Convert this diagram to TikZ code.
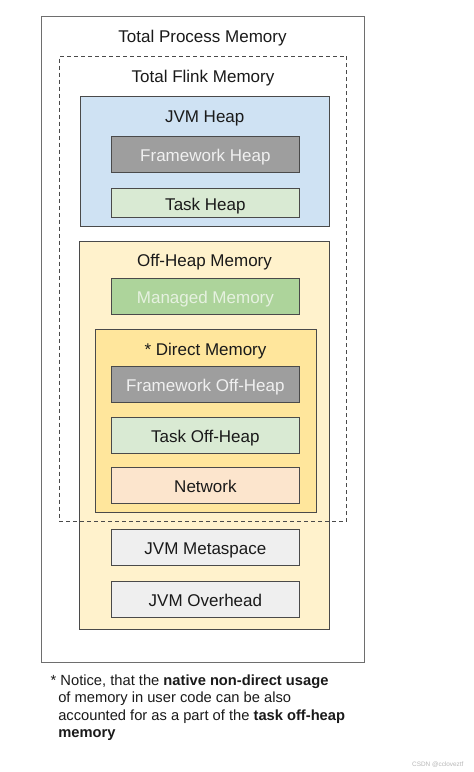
\documentclass[tikz,border=0pt]{standalone}
\usepackage{fontspec}
\setmainfont{Liberation Sans}
\definecolor{boxline}{HTML}{4A4A4A}
\definecolor{outerline}{HTML}{6E6E6E}
\definecolor{txt}{HTML}{1A1A1A}
\definecolor{heapblue}{HTML}{CFE2F3}
\definecolor{fwgray}{HTML}{9E9E9E}
\definecolor{fwtext}{HTML}{F0F0F0}
\definecolor{taskgreen}{HTML}{D9EAD3}
\definecolor{offheap}{HTML}{FFF2CC}
\definecolor{managed}{HTML}{ADD49B}
\definecolor{managedtext}{HTML}{E6F1E0}
\definecolor{direct}{HTML}{FFE69C}
\definecolor{network}{HTML}{FCE5CD}
\definecolor{jvmgray}{HTML}{EFEFEF}
\definecolor{wmark}{HTML}{B8B8B8}
\begin{document}
\begin{tikzpicture}[x=1pt,y=-1pt,
  every node/.style={inner sep=0pt, outer sep=0pt},
  container/.style={draw=boxline, line width=1pt, rectangle},
  item/.style={draw=boxline, line width=1pt, rectangle, minimum width=187.8pt,
    minimum height=36pt, text height=14pt, text depth=0pt,
    font=\fontsize{17}{20}\selectfont, text=txt},
  title/.style={anchor=base, font=\fontsize{17}{20}\selectfont, text=txt}]
\useasboundingbox[fill=white] (0,0) rectangle (474,772);

% outer box
\node[draw=outerline, line width=1pt, minimum width=322.5pt, minimum height=646pt] (outer) at (202.75,339.7) {};
\node[title] (tpm) at (202.5,42.7) {Total Process Memory};
\node[title] (tfm) at (203,82.5) {Total Flink Memory};

% JVM heap
\node[container, fill=heapblue, minimum width=249.3pt, minimum height=130pt] (jvm) at (204.65,161.7) {};
\node[title] (jvmt) at (204.7,122.7) {JVM Heap};
\node[item, fill=fwgray, text=fwtext] (fh) at (205.4,154) {Framework Heap};
\node[item, fill=taskgreen, minimum height=29pt] (th) at (205.4,203.2) {Task Heap};

% Off-heap
\node[container, fill=offheap, minimum width=249.8pt, minimum height=388.3pt] (off) at (204.4,435.15) {};
\node[title] (offt) at (204.5,266) {Off-Heap Memory};
\node[item, fill=managed, text=managedtext] (mm) at (205.4,296.3) {Managed Memory};

% Direct memory
\node[container, fill=direct, minimum width=221.7pt, minimum height=183.4pt] (dir) at (205.85,421) {};
\node[title] (dirt) at (205.5,355) {* Direct Memory};
\node[item, fill=fwgray, text=fwtext] (fo) at (205.4,384.2) {Framework Off-Heap};
\node[item, fill=taskgreen] (to) at (205.4,435.3) {Task Off-Heap};
\node[item, fill=network] (net) at (205.4,485.3) {Network};

% JVM metaspace / overhead
\node[item, fill=jvmgray] (meta) at (205.4,547) {JVM Metaspace};
\node[item, fill=jvmgray] (over) at (205.4,599.2) {JVM Overhead};

% Total Flink Memory dashed frame (on top)
\node[draw=boxline, line width=1pt, dash pattern=on 4pt off 3pt, minimum width=287.4pt, minimum height=465.7pt] (flink) at (203,288.85) {};

% footnote
\node[anchor=north west, align=left, font=\fontsize{14.7}{17.6}\selectfont, text=txt] (note) at (50.7,674.4)
  {* Notice, that the \textbf{native non-direct usage}\\
   \hspace*{7.6pt}of memory in user code can be also\\
   \hspace*{7.6pt}accounted for as a part of the \textbf{task off-heap}\\
   \hspace*{7.6pt}\textbf{memory}};

% watermark
\node[anchor=base east, font=\fontsize{6.4}{7}\selectfont, text=wmark] (wm) at (463.5,766.5) {CSDN @ccloveztf};
\end{tikzpicture}
\end{document}
